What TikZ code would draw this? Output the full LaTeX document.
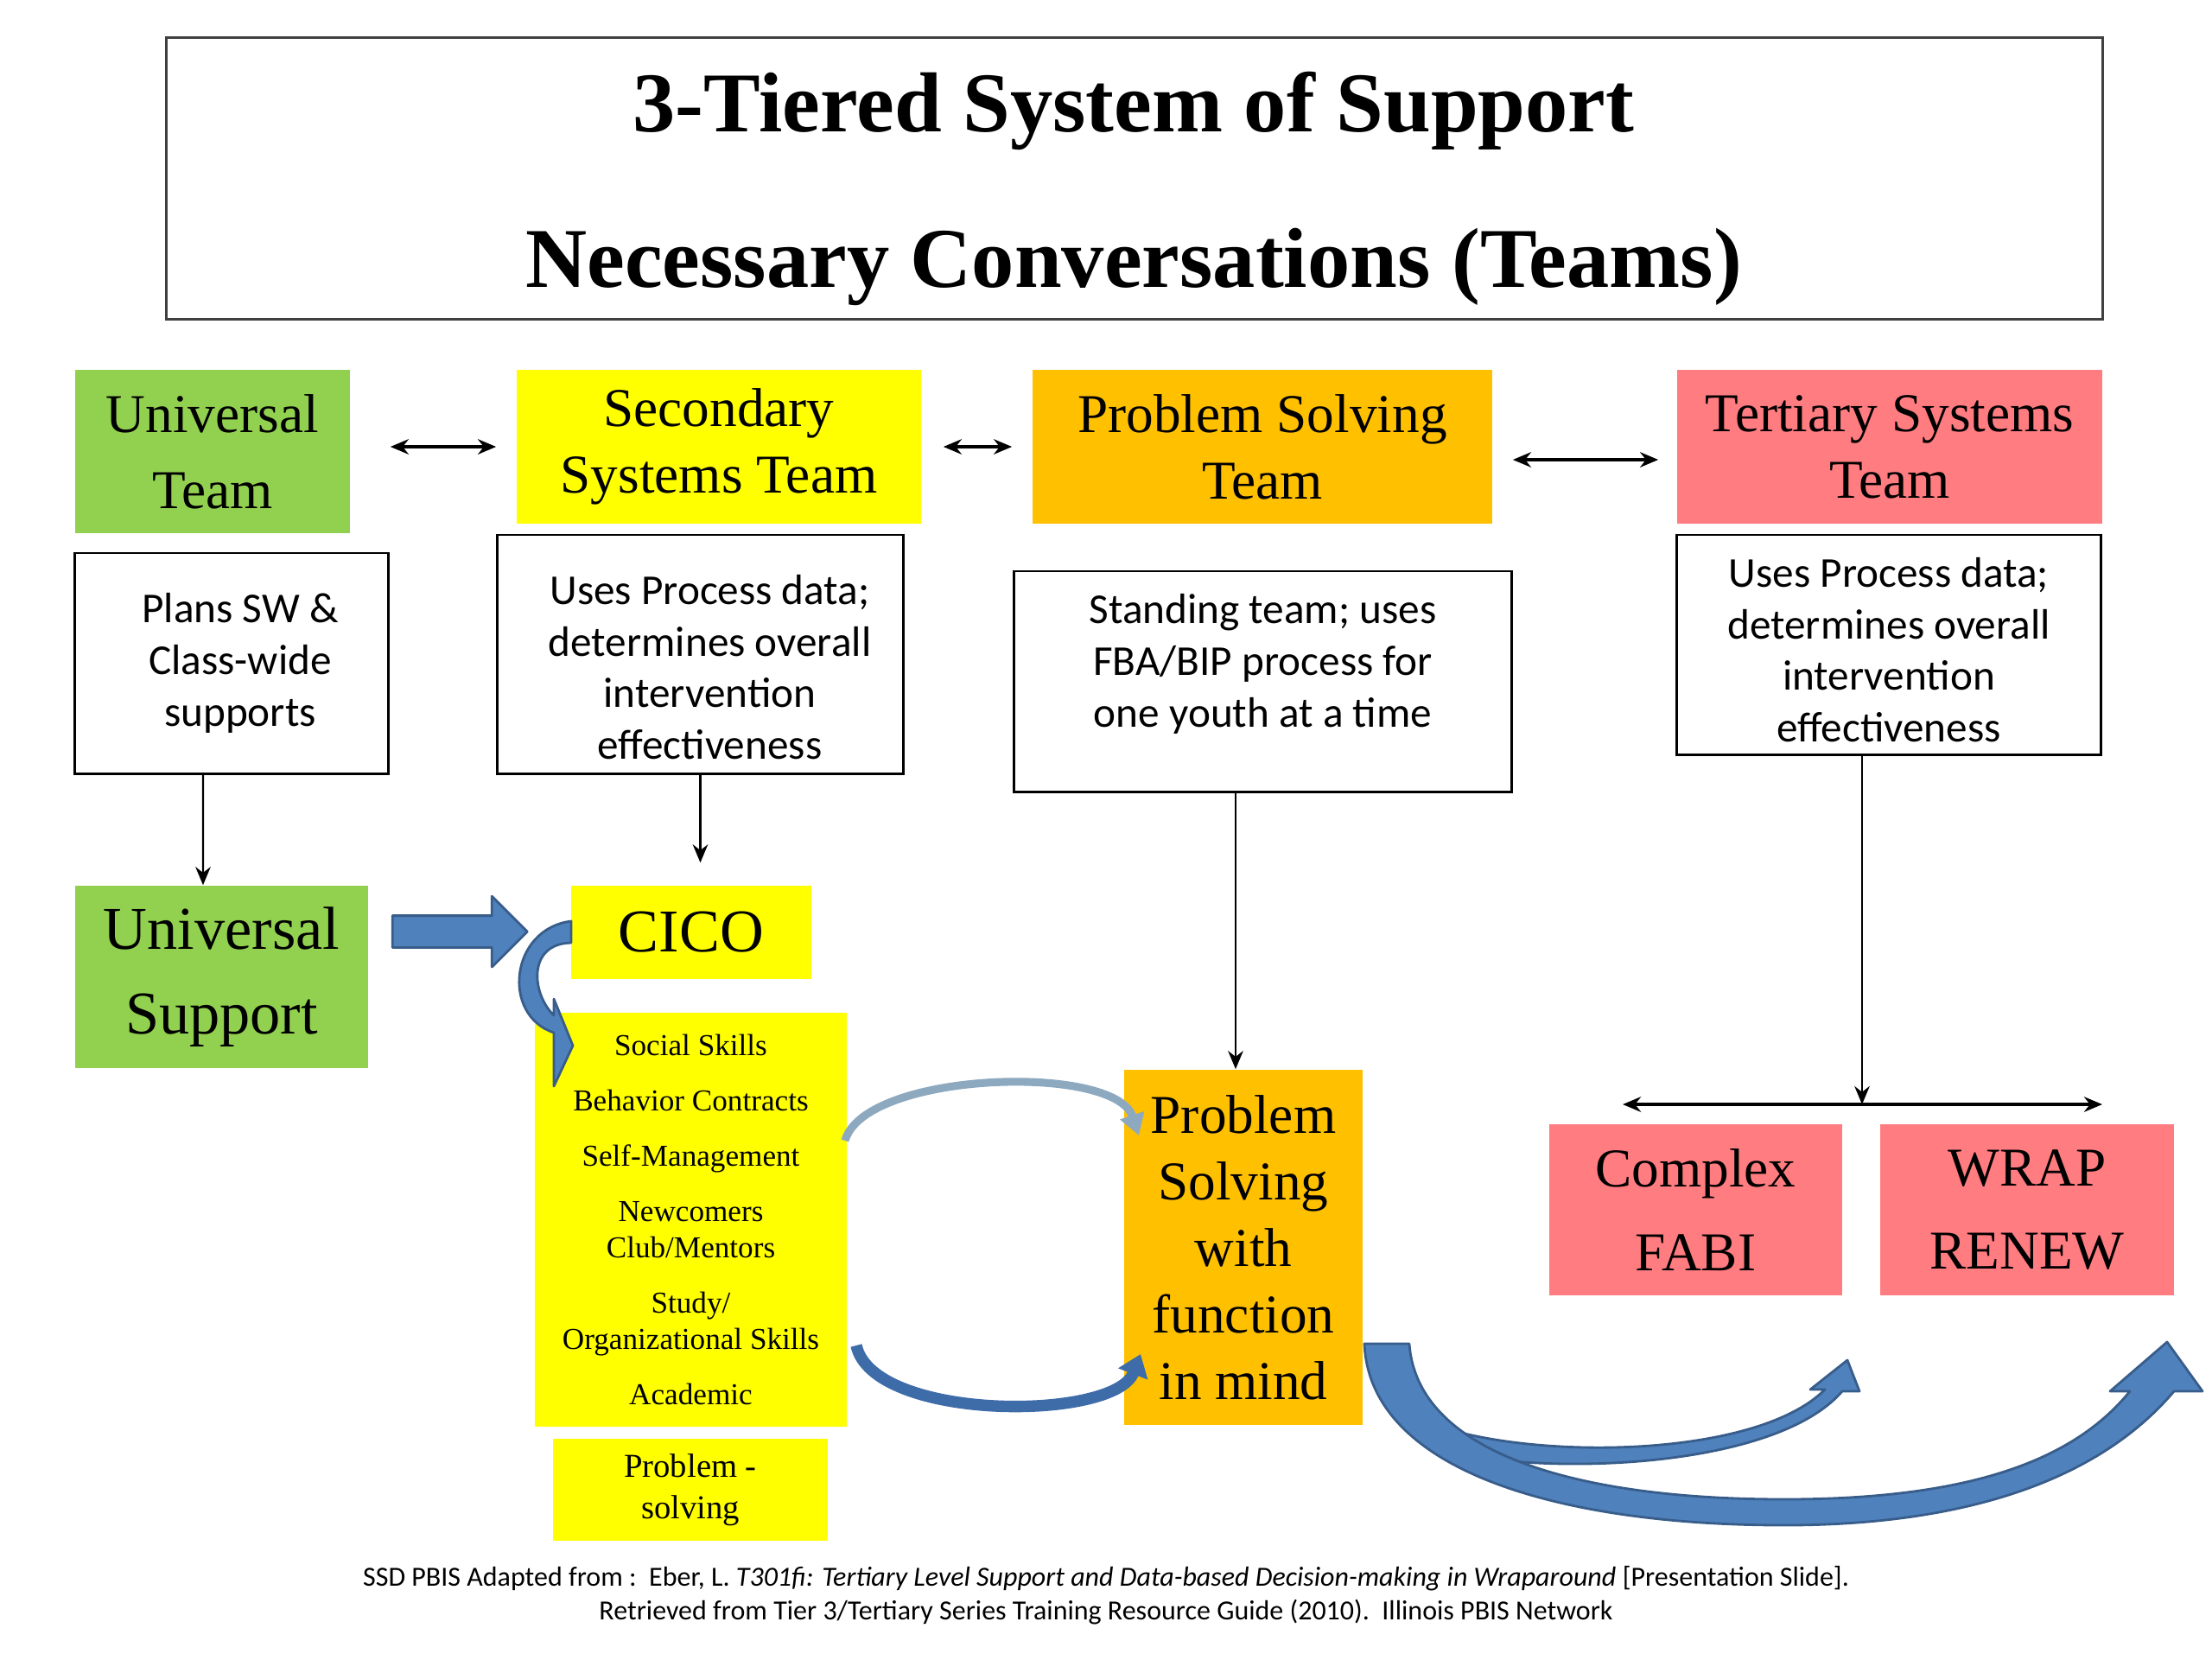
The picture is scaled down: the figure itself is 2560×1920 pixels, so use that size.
\documentclass[tikz,border=0pt]{standalone}
\usepackage{fontspec}
\setmainfont{Liberation Serif}
\newfontfamily\calibri{Carlito}
\usetikzlibrary{arrows.meta,shapes.arrows,calc}

\definecolor{uniGreen}{HTML}{92D050}
\definecolor{secYellow}{HTML}{FFFF00}
\definecolor{psOrange}{HTML}{FFC000}
\definecolor{terPink}{HTML}{FF7C80}
\definecolor{arrowBlue}{HTML}{4F81BD}
\definecolor{arrowEdge}{HTML}{385D8A}
\definecolor{arcBlue}{HTML}{3E6CA8}
\definecolor{arcGray}{HTML}{8DA9C0}
\definecolor{titleEdge}{HTML}{404040}

\tikzset{
  teambox/.style={inner sep=0pt, align=center, font=\fontsize{18}{21.9}\selectfont},
  notebox/.style={draw=black, line width=0.8pt, fill=white, inner sep=0pt},
  notetext/.style={align=center, inner sep=0pt, font=\calibri\fontsize{14}{17}\selectfont},
  link/.style={line width=0.7pt, -{Stealth[length=6pt,width=5pt]}},
  twoway/.style={line width=0.9pt, {Stealth[length=6pt,width=5pt]}-{Stealth[length=6pt,width=5pt]}},
  blockarrow/.style={fill=arrowBlue, draw=arrowEdge, line width=0.8pt, line join=round}
}

\begin{document}
\begin{tikzpicture}[x=0.01cm, y=-0.01cm]
  \useasboundingbox (0,0) rectangle (2560,1920);

  % title
  \node[draw=titleEdge, line width=0.9pt, minimum width=22.4cm, minimum height=3.25cm, inner sep=0pt] (titlebox) at (1313,206.5) {};
  \node[anchor=base, font=\bfseries\fontsize{28}{34}\selectfont] (title1) at (1312,152) {3-Tiered System of Support};
  \node[anchor=base, font=\bfseries\fontsize{28}{34}\selectfont] (title2) at (1312,332) {Necessary Conversations (Teams)};

  % teams
  \node[teambox, fill=uniGreen, minimum width=3.18cm, minimum height=1.89cm, font=\fontsize{18}{25}\selectfont] (uniteam) at (246,522.5) {Universal\\Team};
  \node[teambox, fill=secYellow, minimum width=4.68cm, minimum height=1.78cm] (secteam) at (832,517) {Secondary\\Systems Team};
  \node[teambox, fill=psOrange, minimum width=5.32cm, minimum height=1.78cm] (psteam) at (1461,517) {Problem Solving\\Team};
  \node[teambox, fill=terPink, minimum width=4.92cm, minimum height=1.78cm] (terteam) at (2187,517) {Tertiary Systems\\Team};

  \draw[twoway, shorten <=0.46cm, shorten >=0.23cm] (uniteam.east |- secteam.east) -- (secteam.west);
  \draw[twoway, shorten <=0.25cm, shorten >=0.23cm] (secteam.east) -- (psteam.west);
  \draw[twoway, shorten <=0.23cm, shorten >=0.21cm] ([yshift=-0.15cm]psteam.east) -- ([yshift=-0.15cm]terteam.west);

  % what each team does
  \node[notebox, minimum width=3.62cm, minimum height=2.55cm,
    label={[notetext, xshift=0.1cm]center:{Plans SW \&\\Class-wide\\supports}}] (uninote) at (268,767.5) {};
  \node[notebox, minimum width=4.69cm, minimum height=2.76cm,
    label={[notetext, xshift=0.11cm, yshift=-0.15cm]center:{Uses Process data;\\determines overall\\intervention\\effectiveness}}] (secnote) at (810.5,757) {};
  \node[notebox, minimum width=5.75cm, minimum height=2.55cm,
    label={[notetext, yshift=0.2cm]center:{Standing team; uses\\FBA/BIP process for\\one youth at a time}}] (psnote) at (1461.5,788.5) {};
  \node[notebox, minimum width=4.90cm, minimum height=2.54cm,
    label={[notetext, yshift=-0.06cm]center:{Uses Process data;\\determines overall\\intervention\\effectiveness}}] (ternote) at (2186,746) {};

  % supports
  \node[teambox, fill=uniGreen, minimum width=3.39cm, minimum height=2.11cm, font=\fontsize{20}{27.7}\selectfont] (unisupport) at (256.5,1130.5) {Universal\\Support};
  \node[teambox, fill=secYellow, minimum width=2.78cm, minimum height=1.08cm, font=\fontsize{20}{24}\selectfont] (cico) at (800,1079) {CICO};
  \node[teambox, fill=secYellow, minimum width=3.61cm, minimum height=4.79cm, font=\fontsize{10}{12}\selectfont] (supports) at (799.5,1411.5)
    {Social Skills\\[6.2pt]Behavior Contracts\\[6.2pt]Self-Management\\[6.2pt]Newcomers\\Club/Mentors\\[6.2pt]Study/\\Organizational Skills\\[6.2pt]Academic};
  \node[teambox, fill=secYellow, minimum width=3.18cm, minimum height=1.18cm, font=\fontsize{11}{13.7}\selectfont] (probsolve) at (799,1724) {Problem -\\solving};
  \node[teambox, fill=psOrange, minimum width=2.76cm, minimum height=4.11cm] (psfunction) at (1439,1443.5) {Problem\\Solving\\with\\function\\in mind};
  \node[teambox, fill=terPink, minimum width=3.39cm, minimum height=1.98cm, font=\fontsize{18}{27.4}\selectfont] (fabi) at (1962.5,1400) {Complex\\FABI};
  \node[teambox, fill=terPink, minimum width=3.40cm, minimum height=1.98cm, font=\fontsize{18}{27.4}\selectfont] (wrap) at (2346,1400) {WRAP\\RENEW};

  % down arrows
  \draw[link] ([xshift=-0.33cm]uninote.south) -- ([xshift=-0.215cm]unisupport.north);
  \draw[link] (secnote.south) -- ($(secnote.south |- cico.north)+(0,-26)$);
  \coordinate (psin) at ($(psfunction.north)+(-9,0)$);
  \draw[link] (psin |- psnote.south) -- (psin);
  \coordinate (split) at (2155,1278);
  \coordinate (splitL) at (1878,1278);
  \coordinate (splitR) at (2433,1278);
  \draw[link] (split |- ternote.south) -- (split);
  \draw[twoway] (splitL) -- (splitR);

  % block arrows
  \node[single arrow, blockarrow, minimum height=1.56cm, single arrow head extend=0.225cm, inner sep=0.17cm] (jump) at (523,1078) {};
  \filldraw[blockarrow] (661,1066) .. controls (590,1075) and (580,1175) .. (641,1195) -- (641,1257) -- (663,1210) -- (641,1156)
    -- (641,1175) .. controls (615,1150) and (610,1092) .. (661,1091) -- cycle;

  \draw[arcGray, line width=2.6pt, -{Triangle[length=7pt,width=8pt]}] (978,1320) .. controls (1000,1240) and (1290,1230) .. (1318,1314);
  \draw[arcBlue, line width=3.8pt, -{Triangle[length=7pt,width=10pt]}] (991,1557) .. controls (1010,1645) and (1290,1645) .. (1320,1567);

  \filldraw[blockarrow] (1650,1645) .. controls (1760,1690) and (2030,1690) .. (2112,1608) -- (2095,1608) -- (2138,1574)
    -- (2152,1610) -- (2132,1610) .. controls (2050,1705) and (1760,1708) .. (1660,1675) -- cycle;
  \filldraw[blockarrow] (1579,1555) -- (1631,1555) .. controls (1640,1680) and (1820,1735) .. (2065,1735)
    .. controls (2280,1735) and (2400,1690) .. (2465,1610) -- (2442,1610) -- (2508,1553) -- (2549,1610) -- (2516,1610)
    .. controls (2440,1700) and (2300,1765) .. (2065,1765) .. controls (1800,1765) and (1585,1700) .. (1579,1555) -- cycle;

  % source
  \node[align=center, font=\calibri\fontsize{9.1}{11.1}\selectfont] (source) at (1280,1846)
    {SSD PBIS Adapted from :~~Eber, L. \textit{T301fi: Tertiary Level Support and Data-based Decision-making in Wraparound} [Presentation Slide].\\
     Retrieved from Tier 3/Tertiary Series Training Resource Guide (2010).~~Illinois PBIS Network};
\end{tikzpicture}
\end{document}
